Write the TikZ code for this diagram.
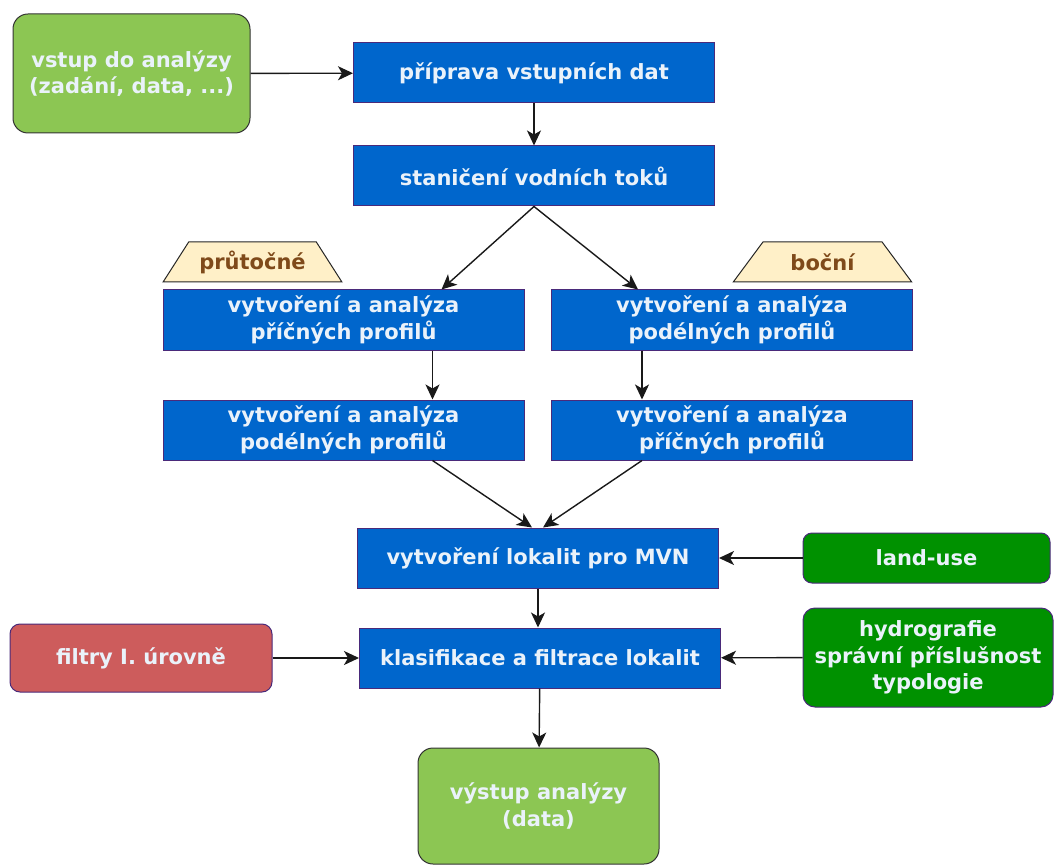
\documentclass[tikz,border=0pt]{standalone}
\usepackage{fontspec}
\setmainfont{DejaVu Sans}
\usetikzlibrary{shapes.geometric,arrows.meta}

\definecolor{boxblue}{HTML}{0066CC}
\definecolor{boxedge}{HTML}{4A2A7A}
\definecolor{lightgreen}{HTML}{8CC653}
\definecolor{darkgreen}{HTML}{009100}
\definecolor{filtred}{HTML}{CD5C5C}
\definecolor{tagfill}{HTML}{FFF0C8}
\definecolor{tagtext}{HTML}{7F4A1A}
\definecolor{boxtext}{HTML}{EAF2FA}

\begin{document}
\begin{tikzpicture}
  [x=1pt,y=-1pt,
   every node/.style={align=center, inner sep=0pt, text=boxtext, line width=1pt,
     font=\fontsize{21}{26.5}\selectfont\bfseries},
   stepbox/.style={rectangle, fill=boxblue, draw=boxedge, minimum width=361, minimum height=60},
   inbox/.style={rectangle, rounded corners=15, fill=lightgreen, draw=black!80},
   databox/.style={rectangle, rounded corners=9, fill=darkgreen, draw=boxedge},
   tag/.style={trapezium, trapezium left angle=47, trapezium right angle=47,
     trapezium stretches=true, fill=tagfill, draw=black!85, text=tagtext,
     minimum width=179, minimum height=40},
   arr/.style={-{Stealth[length=15pt,width=14pt,inset=4pt]}, line width=1.4pt, black!90}]
  \useasboundingbox (0,0) rectangle (1054,866);

  \node[inbox, minimum width=237, minimum height=119] (vstup) at (131.5,73.5) {vstup do analýzy\\(zadání, data, ...)};
  \node[stepbox] (priprava) at (534,73) {příprava vstupních dat};
  \node[stepbox] (stan) at (534,176) {staničení vodních toků};

  \node[tag] (prutocne) at (252.5,262) {průtočné};
  \node[tag] (bocni) at (822.5,262) {boční};

  \node[stepbox] (pricL) at (343.5,320) {vytvoření a analýza\\příčných profilů};
  \node[stepbox] (podR) at (732,320) {vytvoření a analýza\\podélných profilů};
  \node[stepbox] (podL) at (343.5,430) {vytvoření a analýza\\podélných profilů};
  \node[stepbox] (pricR) at (732,430) {vytvoření a analýza\\příčných profilů};

  \node[stepbox] (mvn) at (538,558) {vytvoření lokalit pro MVN};
  \node[databox, minimum width=247, minimum height=50] (landuse) at (926.5,558) {land-use};
  \node[stepbox] (klas) at (540,658) {klasifikace a filtrace lokalit};
  \node[rectangle, rounded corners=10, fill=filtred, draw=boxedge, minimum width=262, minimum height=68] (filtry) at (141,658) {filtry I. úrovně};
  \node[databox, rounded corners=12, minimum width=250, minimum height=99] (hydro) at (928,657.5) {hydrografie\\správní příslušnost\\typologie};
  \node[inbox, minimum width=241, minimum height=116] (vystup) at (538.5,806) {výstup analýzy\\(data)};

  \foreach \from/\to in {vstup/priprava, priprava/stan, landuse/mvn, filtry/klas, hydro/klas, klas/vystup}
    \draw[arr] (\from) -- (\to);
  \draw[arr] (stan.south) -- ([xshift=98]pricL.north);
  \draw[arr] (stan.south) -- ([xshift=-94]podR.north);
  \draw[arr] ([xshift=89]pricL.south) -- ([xshift=89]podL.north);
  \draw[arr] ([xshift=-90]podR.south) -- ([xshift=-90]pricR.north);
  \draw[arr] ([xshift=89]podL.south) -- ([xshift=-6]mvn.north);
  \draw[arr] ([xshift=-90]pricR.south) -- ([xshift=5]mvn.north);
  \draw[arr] (mvn) -- (mvn |- klas.north);
\end{tikzpicture}
\end{document}
